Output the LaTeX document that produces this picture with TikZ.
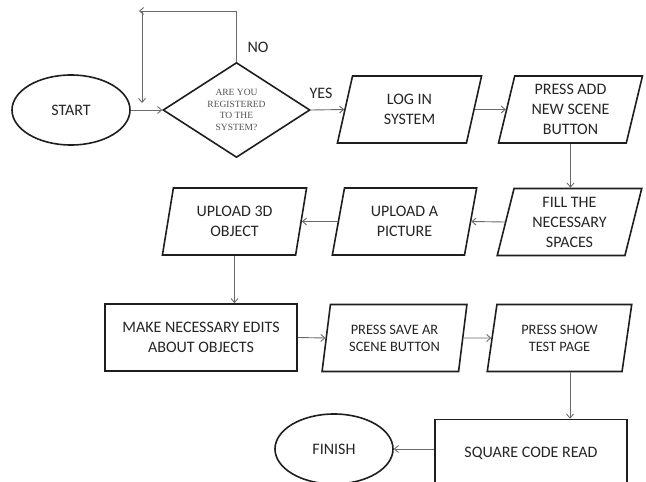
\documentclass[tikz,border=0pt]{standalone}
\usepackage{fontspec}
\setmainfont{Carlito}
\newfontfamily\qfont{Liberation Serif}
\usetikzlibrary{shapes.geometric,arrows.meta}
\definecolor{edge}{HTML}{1E1E1E}
\definecolor{arrowc}{HTML}{6A6A6A}
\definecolor{txt}{HTML}{252525}
\definecolor{qtxt}{HTML}{505050}
\begin{document}
\begin{tikzpicture}[x=1pt,y=-1pt,
  base/.style={draw=edge, line width=1.6pt, text=txt, inner sep=0pt, align=center,
    font=\fontsize{16}{20}\selectfont},
  term/.style={base, ellipse, minimum width=118pt, minimum height=70pt},
  io/.style={base, trapezium, trapezium left angle=77.4, trapezium right angle=102.6,
    trapezium stretches=true, minimum width=145pt, minimum height=67pt},
  proc/.style={base, rectangle, minimum width=192pt, minimum height=67pt},
  dec/.style={draw=edge, line width=1.6pt, diamond, minimum width=147pt, minimum height=95pt, inner sep=0pt},
  qtext/.style={text=qtxt, align=center, font=\qfont\fontsize{9.5}{11.6}\selectfont},
  lbl/.style={text=txt, font=\fontsize{16}{20}\selectfont},
  arr/.style={draw=arrowc, line width=0.9pt, -{Straight Barb[length=4pt,width=7pt]}}]
\useasboundingbox (0,0) rectangle (646,482);

\node[term] (start) at (71,110) {START};
\node[dec] (q) at (236.5,110) {};
\node[qtext] (qt) at (q.center) {ARE YOU\\REGISTERED\\TO THE\\SYSTEM?};
\node[io] (login) at (409.5,109.5) {LOG IN\\SYSTEM};
\node[io] (add) at (570.5,109.5) {PRESS ADD\\NEW SCENE\\BUTTON};
\node[io] (fill) at (569.5,222) {FILL THE\\NECESSARY\\SPACES};
\node[io] (pic) at (404.5,221.5) {UPLOAD A\\PICTURE};
\node[io] (obj) at (234.5,221.5) {UPLOAD 3D\\OBJECT};
\node[proc] (make) at (201,337.5) {MAKE NECESSARY EDITS\\ABOUT OBJECTS};
\node[io, font=\fontsize{14.4}{17}\selectfont] (save) at (394.5,338) {PRESS SAVE AR\\SCENE BUTTON};
\node[io, font=\fontsize{14.4}{17}\selectfont] (show) at (559.5,338) {PRESS SHOW\\TEST PAGE};
\node[proc] (sq) at (531,453) {SQUARE CODE READ};
\node[term] (fin) at (334,449) {FINISH};

\node[lbl] (no) at (258,47) {NO};
\node[lbl] (yes) at (321,93) {YES};

\coordinate (c1) at (142,11);
\coordinate (c0) at (139,11);
\coordinate (c2) at (142,103);

\draw[arr] (start) -- (q.west);
\draw[arr] (q.north) |- (c0);
\draw[arr] (c1) -- (c2);
\draw[arr] (q.east) -- (login.west);
\draw[arr] (login.east) -- (add.west);
\draw[arr] (add.south) -- (add.south |- fill.north);
\draw[arr] (fill.west) -- (pic.east);
\draw[arr] (pic.west) -- (obj.east);
\draw[arr] (obj.south) -- (obj.south |- make.north);
\draw[arr] (make.east) -- (save.west);
\draw[arr] (save.east) -- (show.west);
\draw[arr] ([xshift=10.5pt]show.south) -- ([xshift=10.5pt]show.south |- sq.north);
\draw[arr] (sq.west |- fin.east) -- (fin.east);
\end{tikzpicture}
\end{document}
